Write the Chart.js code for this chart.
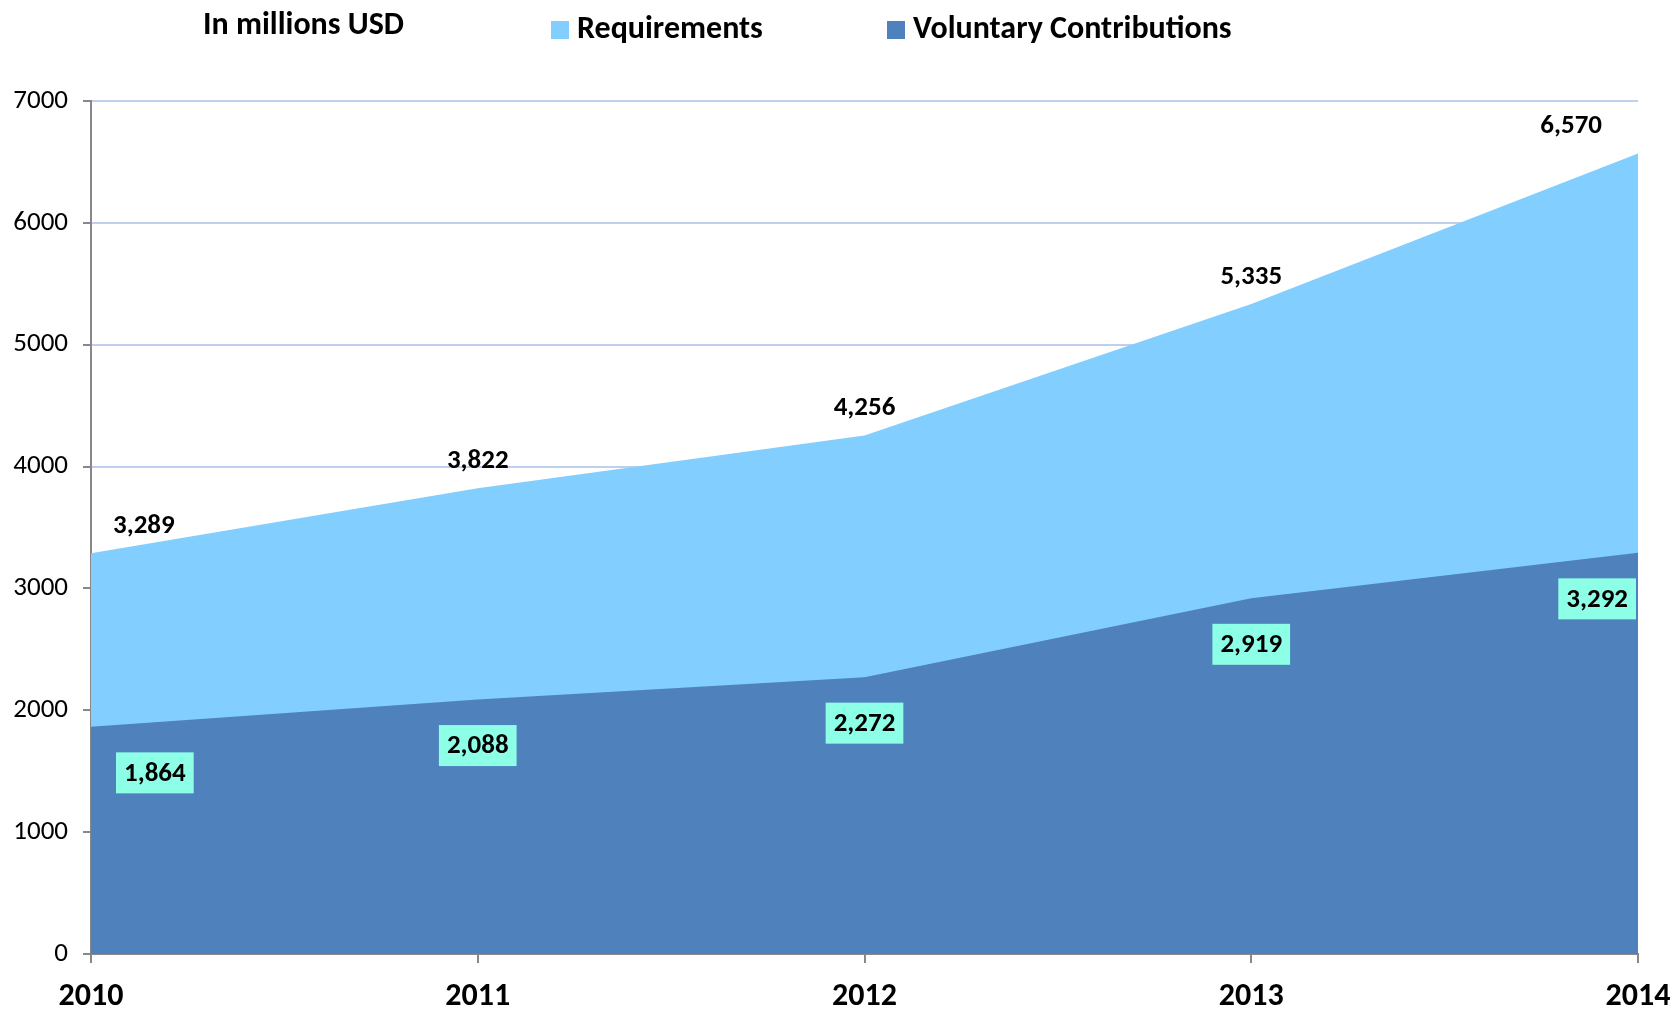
<!DOCTYPE html>
<html>
<head>
<meta charset="utf-8">
<title>Requirements and Voluntary Contributions</title>
<script src="https://cdn.jsdelivr.net/npm/chart.js@4.4.1/dist/chart.umd.min.js"></script>
<style>
  html, body { margin: 0; padding: 0; background: #fff; }
  #wrap { width: 1677px; height: 1010px; }
</style>
</head>
<body>
<div id="wrap"><canvas id="fundingChart" width="1677" height="1010"></canvas></div>
<script>
// values (millions USD)
const years = ['2010', '2011', '2012', '2013', '2014'];
const requirements = [3289, 3822, 4256, 5335, 6570];
const voluntary = [1864, 2088, 2272, 2919, 3292];
const yMin = 0;
const yMax = 7000;
const yStep = 1000;
const unitTitle = 'In millions USD';

const FONT = 'Carlito, Lato, sans-serif';

// title + legend drawn by hand so they sit where the original has them
const headerPlugin = {
  id: 'header',
  afterDraw(chart) {
    const ctx = chart.ctx;
    ctx.save();
    ctx.fillStyle = '#000';
    ctx.textBaseline = 'middle';
    ctx.font = 'bold 32px ' + FONT;
    ctx.fillText(unitTitle, 203, 26);

    const items = [
      { x: 551, ds: chart.data.datasets[0] },
      { x: 887, ds: chart.data.datasets[1] }
    ];
    items.forEach(item => {
      ctx.fillStyle = item.ds.backgroundColor;
      ctx.fillRect(item.x, 21, 18, 18);
      ctx.fillStyle = '#000';
      ctx.fillText(item.ds.label, item.x + 26, 30);
    });
    ctx.restore();
  }
};

// value labels next to every point
const valueLabels = {
  id: 'valueLabels',
  afterDatasetsDraw(chart) {
    const ctx = chart.ctx;
    const area = chart.chartArea;
    ctx.save();
    ctx.font = 'bold 27px ' + FONT;
    ctx.textAlign = 'center';
    ctx.textBaseline = 'middle';
    chart.data.datasets.forEach((ds, di) => {
      const meta = chart.getDatasetMeta(di);
      meta.data.forEach((pt, i) => {
        const text = ds.data[i].toLocaleString('en-US');
        const w = ctx.measureText(text).width;
        if (ds.labelBox) {
          const bw = w + 16, bh = 41;
          let x = Math.min(Math.max(pt.x, area.left + bw / 2 + 25), area.right - bw / 2 - 2);
          let y = pt.y + 46;
          ctx.fillStyle = ds.labelBox;
          ctx.fillRect(x - bw / 2, y - bh / 2, bw, bh);
          ctx.fillStyle = '#000';
          ctx.fillText(text, x, y + 1);
        } else {
          let x = Math.min(Math.max(pt.x, area.left + w / 2 + 22), area.right - w / 2 - 36);
          let y = pt.y - 27;
          ctx.fillStyle = '#000';
          ctx.fillText(text, x, y);
        }
      });
    });
    ctx.restore();
  }
};

const ctx = document.getElementById('fundingChart').getContext('2d');
const fundingChart = new Chart(ctx, {
  type: 'line',
  data: {
    labels: years,
    datasets: [
      {
        label: 'Requirements',
        data: requirements,
        backgroundColor: '#82CEFF',
        borderColor: 'rgba(0,0,0,0)',
        borderWidth: 0,
        fill: 'origin',
        pointRadius: 0,
        tension: 0,
        order: 1
      },
      {
        label: 'Voluntary Contributions',
        data: voluntary,
        backgroundColor: '#4F81BD',
        borderColor: 'rgba(0,0,0,0)',
        borderWidth: 0,
        fill: 'origin',
        pointRadius: 0,
        tension: 0,
        order: 0,
        labelBox: '#8CFFE6'
      }
    ]
  },
  options: {
    responsive: false,
    animation: false,
    devicePixelRatio: 1,
    layout: { padding: { top: 101, right: 39, left: 0, bottom: 0 } },
    plugins: {
      legend: { display: false },
      title: { display: false },
      tooltip: { enabled: false }
    },
    scales: {
      x: {
        offset: false,
        grid: {
          drawOnChartArea: false,
          tickLength: 9,
          tickColor: '#888',
          lineWidth: 2
        },
        border: { color: '#888', width: 2 },
        ticks: {
          color: '#000',
          font: { family: FONT, size: 32, weight: 'bold' },
          padding: 15,
          maxRotation: 0
        },
        afterFit(scale) {
          scale.height = 56;
          scale.paddingLeft = 0;
          scale.paddingRight = 0;
        }
      },
      y: {
        min: yMin,
        max: yMax,
        grid: {
          color: '#BFD0EE',
          lineWidth: 2,
          tickColor: '#888',
          tickLength: 8
        },
        border: { color: '#888', width: 2 },
        ticks: {
          stepSize: yStep,
          color: '#000',
          font: { family: FONT, size: 27 },
          padding: 15,
          callback: v => String(v)
        },
        afterFit(scale) { scale.width = 91; }
      }
    }
  },
  plugins: [valueLabels, headerPlugin]
});
</script>
</body>
</html>
